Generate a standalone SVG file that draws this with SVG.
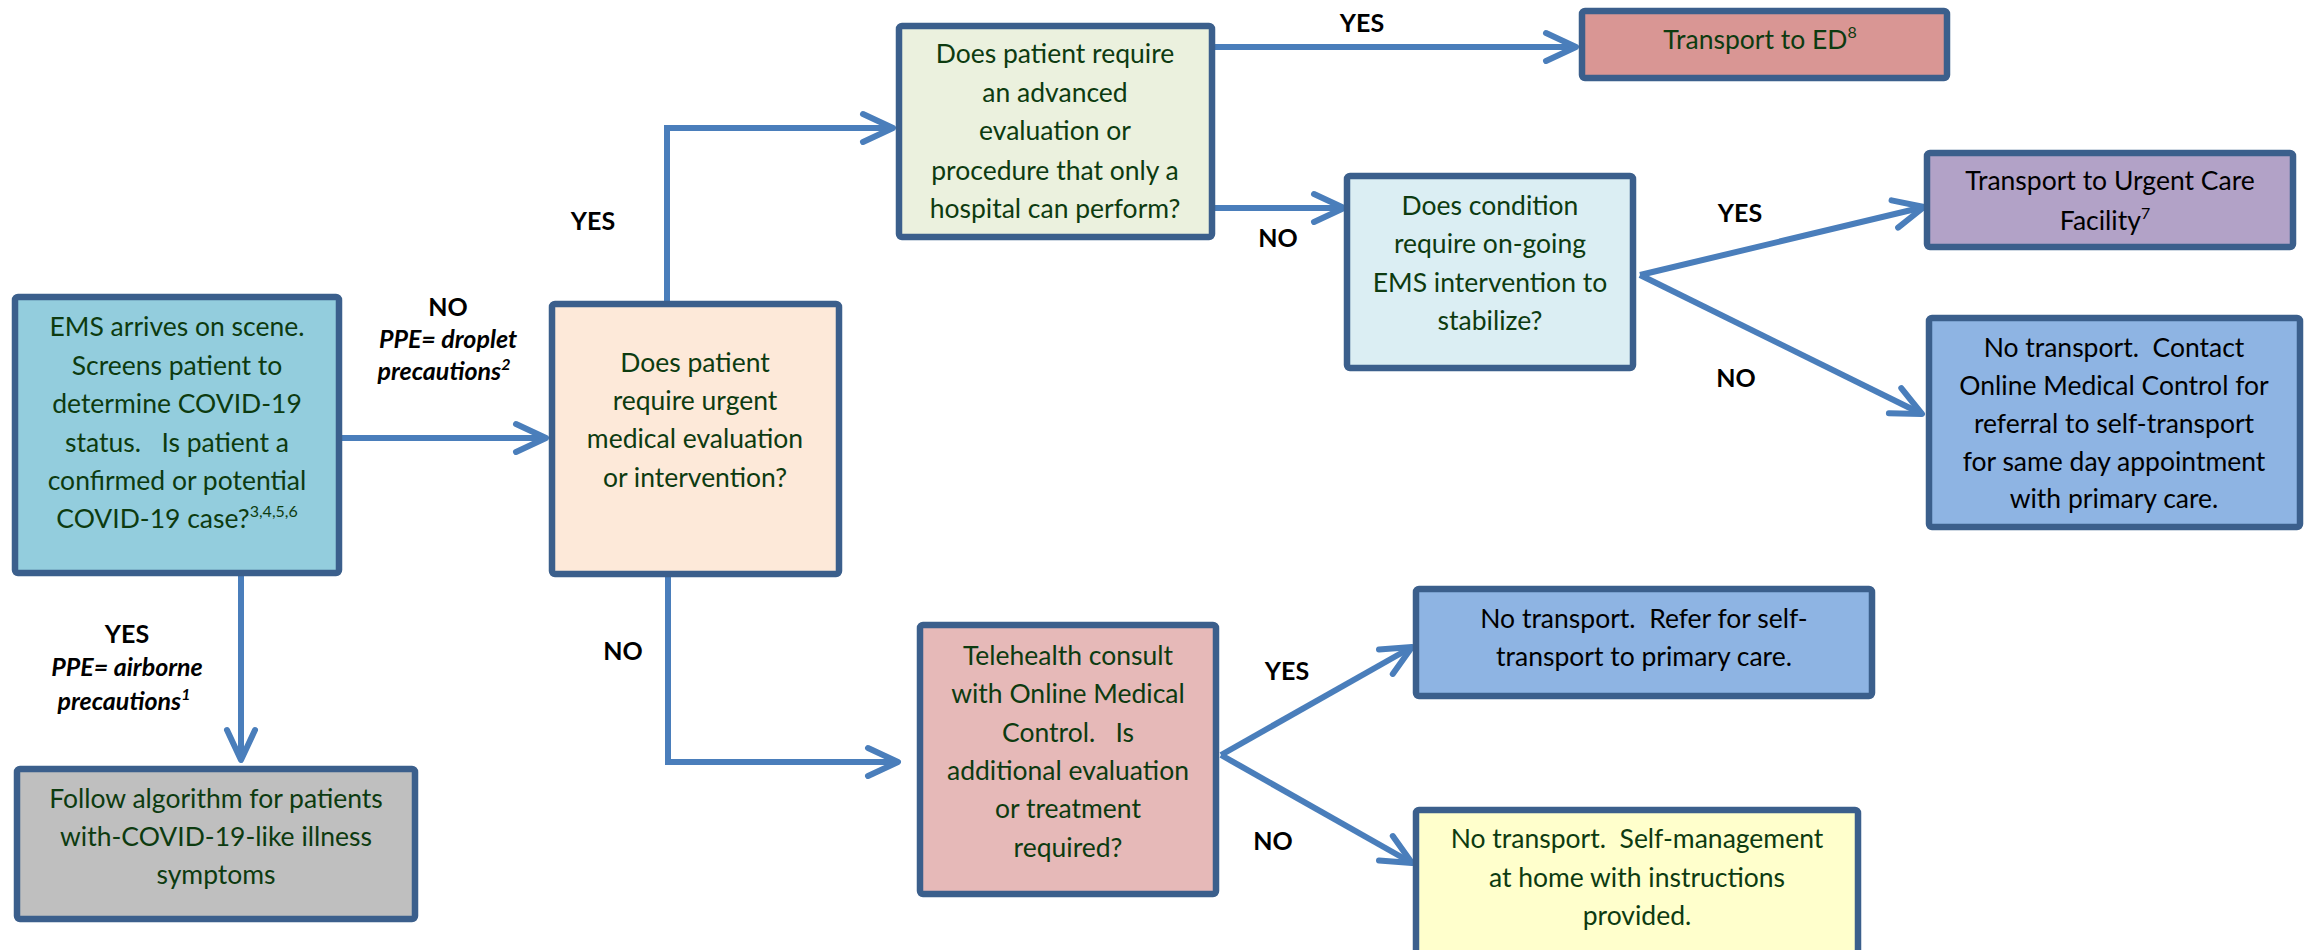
<svg xmlns="http://www.w3.org/2000/svg" width="2315" height="950" viewBox="0 0 2315 950">
<style>
.box{stroke:#3b5f8c;stroke-width:6.5;}
.t{font-family:Lato,"Liberation Sans",sans-serif;font-size:26.5px;fill:#0d3b10;text-anchor:middle;white-space:pre;}
.k{fill:#000;}
.lbl{font-family:Lato,"Liberation Sans",sans-serif;font-size:25px;font-weight:bold;fill:#000;text-anchor:middle;}
.it{font-style:italic;}
.sup{font-size:16px;}
.c{fill:none;stroke:#4a7ebb;stroke-width:6;}
</style>
<defs>
<marker id="ah" markerUnits="userSpaceOnUse" viewBox="-36 -20 40 40" refX="0" refY="0" markerWidth="40" markerHeight="40" orient="auto">
<path d="M-30,-14 L0,0 L-30,14" fill="none" stroke="#4a7ebb" stroke-width="6" stroke-linecap="round" stroke-linejoin="round"/>
</marker>
</defs>
<rect width="2315" height="950" fill="#fff"/>
<g id="connectors">
<path class="c" d="M342,438 H546" marker-end="url(#ah)"/>
<path class="c" d="M241,576 V760" marker-end="url(#ah)"/>
<path class="c" d="M667,301 V128 H893" marker-end="url(#ah)"/>
<path class="c" d="M668,577 V762 H898" marker-end="url(#ah)"/>
<path class="c" d="M1215,47 H1576" marker-end="url(#ah)"/>
<path class="c" d="M1215,208 H1344" marker-end="url(#ah)"/>
<path class="c" d="M1640,275 L1924,207" marker-end="url(#ah)"/>
<path class="c" d="M1640,275 L1922,414" marker-end="url(#ah)"/>
<path class="c" d="M1221,755 L1412,647" marker-end="url(#ah)"/>
<path class="c" d="M1221,755 L1412,863" marker-end="url(#ah)"/>
<text class="lbl" x="448" y="316">NO</text>
<text class="lbl it" x="448" y="348">PPE= droplet</text>
<text class="lbl it" x="444" y="380">precautions<tspan class="sup" dy="-10">2</tspan></text>
<text class="lbl" x="127" y="643">YES</text>
<text class="lbl it" x="127" y="676">PPE= airborne</text>
<text class="lbl it" x="124" y="710">precautions<tspan class="sup" dy="-10">1</tspan></text>
<text class="lbl" x="593" y="230">YES</text>
<text class="lbl" x="623" y="660">NO</text>
<text class="lbl" x="1362" y="32">YES</text>
<text class="lbl" x="1278" y="247">NO</text>
<text class="lbl" x="1740" y="222">YES</text>
<text class="lbl" x="1736" y="387">NO</text>
<text class="lbl" x="1287" y="680">YES</text>
<text class="lbl" x="1273" y="850">NO</text>
</g>
<g id="ems">
<rect class="box" x="15" y="297" width="324" height="276" rx="3" fill="#93cddd"/>
<text class="t" x="177" y="336">EMS arrives on scene.</text>
<text class="t" x="177" y="375">Screens patient to</text>
<text class="t" x="177" y="413">determine COVID-19</text>
<text class="t" x="177" y="452">status.   Is patient a</text>
<text class="t" x="177" y="490">confirmed or potential</text>
<text class="t" x="177" y="528">COVID-19 case?<tspan class="sup" dy="-11">3,4,5,6</tspan></text>
</g>
<g id="urgent-q">
<rect class="box" x="552" y="304" width="287" height="270" rx="3" fill="#fde9d9"/>
<text class="t" x="695" y="372">Does patient</text>
<text class="t" x="695" y="410">require urgent</text>
<text class="t" x="695" y="448">medical evaluation</text>
<text class="t" x="695" y="487">or intervention?</text>
</g>
<g id="advanced-q">
<rect class="box" x="899" y="26" width="313" height="211" rx="3" fill="#ebf1de"/>
<text class="t" x="1055" y="63">Does patient require</text>
<text class="t" x="1055" y="102">an advanced</text>
<text class="t" x="1055" y="140">evaluation or</text>
<text class="t" x="1055" y="180">procedure that only a</text>
<text class="t" x="1055" y="218">hospital can perform?</text>
</g>
<g id="ems-q">
<rect class="box" x="1347" y="176" width="286" height="192" rx="3" fill="#dbeef3"/>
<text class="t" x="1490" y="215">Does condition</text>
<text class="t" x="1490" y="253">require on-going</text>
<text class="t" x="1490" y="292">EMS intervention to</text>
<text class="t" x="1490" y="330">stabilize?</text>
</g>
<g id="ed">
<rect class="box" x="1582" y="11" width="365" height="67" rx="3" fill="#d99694"/>
<text class="t" x="1760" y="49">Transport to ED<tspan class="sup" dy="-11">8</tspan></text>
</g>
<g id="urgent-care">
<rect class="box" x="1927" y="153" width="366" height="94" rx="3" fill="#b2a2c7"/>
<text class="t k" x="2110" y="190">Transport to Urgent Care</text>
<text class="t k" x="2105" y="230">Facility<tspan class="sup" dy="-11">7</tspan></text>
</g>
<g id="contact">
<rect class="box" x="1929" y="318" width="371" height="209" rx="3" fill="#8eb4e3"/>
<text class="t k" x="2114" y="357">No transport.  Contact</text>
<text class="t k" x="2114" y="395">Online Medical Control for</text>
<text class="t k" x="2114" y="433">referral to self-transport</text>
<text class="t k" x="2114" y="471">for same day appointment</text>
<text class="t k" x="2114" y="508">with primary care.</text>
</g>
<g id="follow">
<rect class="box" x="17" y="769" width="398" height="150" rx="3" fill="#bfbfbf"/>
<text class="t" x="216" y="808">Follow algorithm for patients</text>
<text class="t" x="216" y="846">with-COVID-19-like illness</text>
<text class="t" x="216" y="884">symptoms</text>
</g>
<g id="telehealth">
<rect class="box" x="920" y="625" width="296" height="269" rx="3" fill="#e6b9b8"/>
<text class="t" x="1068" y="665">Telehealth consult</text>
<text class="t" x="1068" y="703">with Online Medical</text>
<text class="t" x="1068" y="742">Control.   Is</text>
<text class="t" x="1068" y="780">additional evaluation</text>
<text class="t" x="1068" y="818">or treatment</text>
<text class="t" x="1068" y="857">required?</text>
</g>
<g id="refer">
<rect class="box" x="1416" y="589" width="456" height="107" rx="3" fill="#8eb4e3"/>
<text class="t k" x="1644" y="628">No transport.  Refer for self-</text>
<text class="t k" x="1644" y="666">transport to primary care.</text>
</g>
<g id="self-mgmt">
<rect class="box" x="1416" y="810" width="442" height="150" rx="3" fill="#ffffcc"/>
<text class="t" x="1637" y="848">No transport.  Self-management</text>
<text class="t" x="1637" y="887">at home with instructions</text>
<text class="t" x="1637" y="925">provided.</text>
</g>
</svg>
